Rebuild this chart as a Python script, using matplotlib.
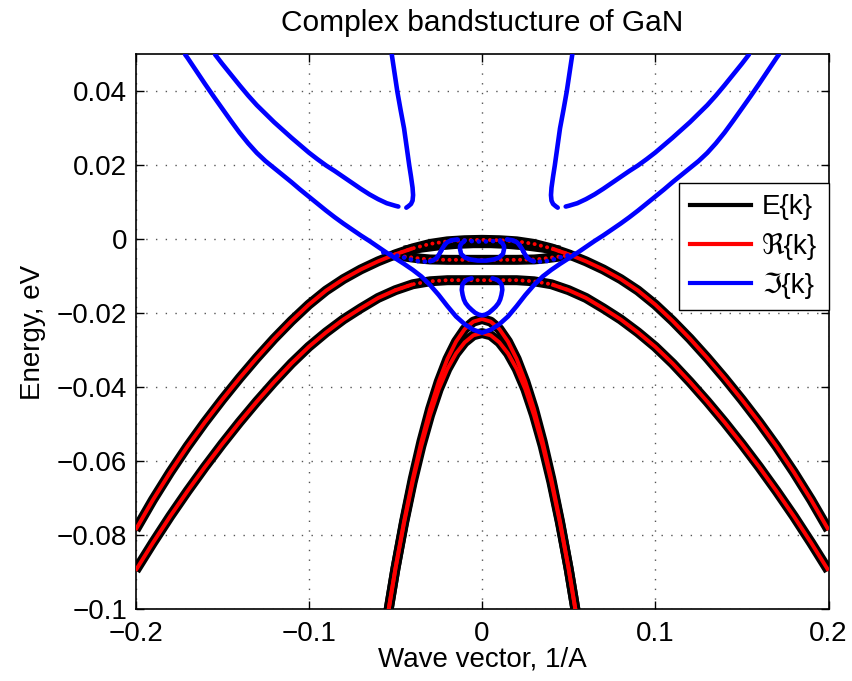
import numpy as np
import matplotlib
matplotlib.use("Agg")
import matplotlib.pyplot as plt

plt.rcParams['font.family'] = ['Liberation Sans', 'DejaVu Sans']

# ---------------- data (k in 1/A, E in eV); bands are symmetric in k (k <= 0 half listed) ----------------
hh_k = [-0.20, -0.19, -0.18, -0.17, -0.16, -0.15, -0.14, -0.13, -0.12, -0.11, -0.10,
        -0.09, -0.08, -0.07, -0.06, -0.05, -0.04, -0.03, -0.02, -0.01, 0.0]
hh_E = [-0.0785, -0.0704, -0.0629, -0.0559, -0.0494, -0.0433, -0.0375, -0.0320, -0.0268, -0.0220, -0.0176,
        -0.0138, -0.0107, -0.0081, -0.0059, -0.0040, -0.0024, -0.0012, -0.0005, -0.0002, -0.0001]
hh2_k = [-0.045, -0.035, -0.025, -0.015, -0.005, 0.0]
hh2_E = [-0.0030, -0.0022, -0.0016, -0.0012, -0.0010, -0.0010]
b2_k = [-0.052, -0.045, -0.04, -0.035, -0.03, -0.02, -0.01, 0.0]
b2_E = [-0.0042, -0.0046, -0.0049, -0.0052, -0.0054, -0.0055, -0.0055, -0.0055]
lh_k = [-0.20, -0.19, -0.18, -0.17, -0.16, -0.15, -0.14, -0.13, -0.12, -0.11, -0.10,
        -0.09, -0.08, -0.07, -0.06, -0.05, -0.04, -0.03, -0.02, -0.01, 0.0]
lh_E = [-0.0895, -0.0820, -0.0748, -0.0680, -0.0615, -0.0553, -0.0494, -0.0438, -0.0385, -0.0335, -0.0290,
        -0.0251, -0.0216, -0.0186, -0.0158, -0.0137, -0.0121, -0.0113, -0.0110, -0.0110, -0.0110]
ch1_k = [-0.060, -0.055, -0.050, -0.045, -0.040, -0.035, -0.030, -0.025, -0.020, -0.015, -0.010, -0.005, 0.0]
ch1_E = [-0.1187, -0.1032, -0.0890, -0.0762, -0.0647, -0.0546, -0.0458, -0.0384, -0.0323, -0.0276, -0.0242, -0.0222, -0.0215]
ch2_k = [-0.060, -0.055, -0.050, -0.045, -0.040, -0.035, -0.030, -0.025, -0.020, -0.015, -0.010, -0.005, 0.0]
ch2_E = [-0.1185, -0.1030, -0.0890, -0.0766, -0.0655, -0.0558, -0.0475, -0.0405, -0.0350, -0.0308, -0.0278, -0.0259, -0.0253]

# imaginary branches
b1_k = [-0.1714, -0.17, -0.165, -0.16, -0.155, -0.15, -0.145, -0.14, -0.135, -0.13, -0.125, -0.12, -0.115,
        -0.11, -0.105, -0.10, -0.095, -0.09, -0.085, -0.08, -0.075, -0.07, -0.065, -0.06, -0.055, -0.05,
        -0.045, -0.04, -0.035, -0.03, -0.025, -0.02, -0.015, -0.01, -0.005, 0.0]
b1_E = [0.0500, 0.0491, 0.0456, 0.0421, 0.0387, 0.0354, 0.0321, 0.0289, 0.0260, 0.0234, 0.0212, 0.0193, 0.0174,
        0.0155, 0.0135, 0.0116, 0.0097, 0.0078, 0.0060, 0.0043, 0.0027, 0.0011, -0.0004, -0.0020, -0.0036, -0.0051,
        -0.0066, -0.0082, -0.0100, -0.0123, -0.0150, -0.0180, -0.0208, -0.0229, -0.0244, -0.0252]
b2i_k = [-0.1541, -0.15, -0.145, -0.14, -0.135, -0.13, -0.125, -0.12, -0.115, -0.11, -0.105, -0.10, -0.095,
         -0.09, -0.085, -0.08, -0.075, -0.07, -0.065, -0.06, -0.055, -0.05, -0.0483]
b2i_E = [0.0500, 0.0475, 0.0446, 0.0417, 0.0389, 0.0363, 0.0340, 0.0317, 0.0296, 0.0275, 0.0255, 0.0235, 0.0217,
         0.0200, 0.0185, 0.0169, 0.0153, 0.0137, 0.0122, 0.0109, 0.0098, 0.0091, 0.0089]
b3_k = [-0.0521, -0.0505, -0.0489, -0.0470, -0.0450, -0.0435, -0.0420, -0.0410, -0.0401, -0.0398, -0.0401, -0.0410, -0.0425, -0.0437]
b3_E = [0.0500, 0.0450, 0.0400, 0.0350, 0.0300, 0.0250, 0.0200, 0.0170, 0.0140, 0.0120, 0.0105, 0.0096, 0.0090, 0.0086]
s_k = [-0.057, -0.052, -0.047, -0.042, -0.038, -0.034, -0.030, -0.028, -0.026, -0.0245, -0.023, -0.0215,
       -0.020, -0.0175, -0.0146, -0.011, -0.008, -0.004, 0.0]
s_E = [-0.0035, -0.0040, -0.0046, -0.0053, -0.0058, -0.0060, -0.0059, -0.0056, -0.0049, -0.0038, -0.0025, -0.0014,
       -0.0007, -0.0002, 0.0000, -0.0002, -0.0004, -0.0005, -0.0006]
loopa_k = [-0.0105, -0.0118, -0.0127, -0.0127, -0.0121, -0.0098, -0.0068, -0.0025, 0.0]
loopa_E = [-0.0006, -0.0010, -0.0018, -0.0026, -0.0039, -0.0049, -0.0054, -0.0057, -0.0057]
loopb_k = [-0.0060, -0.0088, -0.0105, -0.0114, -0.0117, -0.0112, -0.0105, -0.0095, -0.0078, -0.0060, -0.0040, -0.0020, 0.0]
loopb_E = [-0.0105, -0.0109, -0.0116, -0.0123, -0.0136, -0.0150, -0.0162, -0.0172, -0.0182, -0.0190, -0.0198, -0.0203, -0.0205]

legend_labels = ['E{k}', '\u211c{k}', '\u2111{k}']
title = 'Complex bandstucture of GaN'
xlabel = 'Wave vector, 1/A'
ylabel = 'Energy, eV'
xticks = [-0.2, -0.1, 0, 0.1, 0.2]
xticklabels = ['\u22120.2', '\u22120.1', '0', '0.1', '0.2']
yticks = [-0.1, -0.08, -0.06, -0.04, -0.02, 0, 0.02, 0.04]
yticklabels = ['\u22120.1', '\u22120.08', '\u22120.06', '\u22120.04', '\u22120.02', '0', '0.02', '0.04']


def sym(k, E):
    k = np.asarray(k, float)
    E = np.asarray(E, float)
    if k[-1] == 0:
        return np.concatenate([k, -k[-2::-1]]), np.concatenate([E, E[-2::-1]])
    return k, E


fig = plt.figure(figsize=(8.53, 6.81), dpi=100)
ax = fig.add_axes([0.1589, 0.105, 0.8124, 0.815])

blw, rlw, ilw = 7.2, 2.8, 3.3
blue = '#0000ff'
dotted = (0, (0.05, 1.6))

real_bands = [(hh_k, hh_E), (hh2_k, hh2_E), (b2_k, b2_E), (lh_k, lh_E), (ch1_k, ch1_E), (ch2_k, ch2_E)]
for k, E in real_bands:
    kk, EE = sym(k, E)
    ax.plot(kk, EE, color='black', lw=blw, zorder=2, solid_capstyle='butt', solid_joinstyle='round')

# red: solid outside the flat central region, dotted inside it
for k, E in [(hh_k, hh_E), (lh_k, lh_E)]:
    kk, EE = sym(k, E)
    for side in (-1, 1):
        m = side * kk >= 0.04
        ax.plot(kk[m], EE[m], color='red', lw=rlw, zorder=3, solid_capstyle='butt')
    m = np.abs(kk) <= 0.05
    ax.plot(kk[m], EE[m], color='red', lw=rlw, zorder=3, linestyle=dotted, dash_capstyle='round')
kk, EE = sym(b2_k, b2_E)
ax.plot(kk, EE, color='red', lw=rlw, zorder=3, linestyle=dotted, dash_capstyle='round')
for k, E in [(ch1_k, ch1_E), (ch2_k, ch2_E)]:
    kk, EE = sym(k, E)
    ax.plot(kk, EE, color='red', lw=rlw, zorder=3, solid_capstyle='butt')

# imaginary branches
for k, E in [(b1_k, b1_E), (loopa_k, loopa_E), (loopb_k, loopb_E)]:
    kk, EE = sym(k, E)
    ax.plot(kk, EE, color=blue, lw=ilw, zorder=4, solid_capstyle='round', solid_joinstyle='round')
for k, E in [(b2i_k, b2i_E), (b3_k, b3_E)]:
    k = np.asarray(k)
    for sgn in (1, -1):
        ax.plot(sgn * k, E, color=blue, lw=ilw, zorder=4, solid_capstyle='round', solid_joinstyle='round')
# S-shaped branch: dotted where flat, solid where steep
sk, sE = sym(s_k, s_E)
ax.plot(sk, sE, color=blue, lw=ilw, zorder=4, linestyle=(0, (0.05, 1.5)), dash_capstyle='round')
for sgn in (1, -1):
    m = (sgn * sk >= 0.0146) & (sgn * sk <= 0.030)
    ax.plot(sk[m], sE[m], color=blue, lw=ilw, zorder=4, solid_capstyle='round', solid_joinstyle='round')

ax.set_xlim(-0.2, 0.2)
ax.set_ylim(-0.1, 0.05)
ax.set_xticks(xticks)
ax.set_xticklabels(xticklabels)
ax.set_yticks(yticks)
ax.set_yticklabels(yticklabels)
ax.tick_params(direction='in', length=6, width=1, labelsize=20, top=True, right=True)
ax.tick_params(axis='x', pad=8)
ax.tick_params(axis='y', pad=6)
for sp in ax.spines.values():
    sp.set_linewidth(1.2)
ax.grid(True, color='#555555', linestyle=(0, (1, 6)), linewidth=1.0)
ax.set_axisbelow(True)

ax.set_title(title, fontsize=21.5, pad=17)
ax.set_xlabel(xlabel, fontsize=20, labelpad=0)
ax.set_ylabel(ylabel, fontsize=20, labelpad=8)

handles = [plt.Line2D([], [], color=c, lw=3) for c in ['black', 'red', blue]]
leg = ax.legend(handles, legend_labels, loc='upper right', bbox_to_anchor=(1.0, 0.768),
                borderaxespad=0, fontsize=20, frameon=True, fancybox=False,
                edgecolor='black', framealpha=1, handlelength=2.2, handletextpad=0.4,
                labelspacing=0.45, borderpad=0.4)
leg.get_frame().set_linewidth(1.0)

fig.savefig('out.png', dpi=100)
